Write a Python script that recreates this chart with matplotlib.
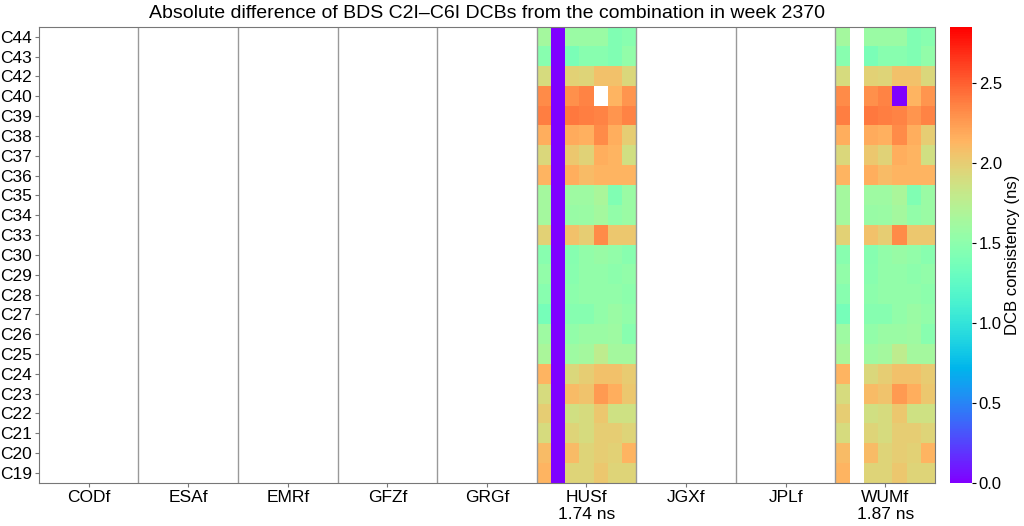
import numpy as np
import matplotlib
matplotlib.use("Agg")
import matplotlib.pyplot as plt

plt.rcParams['font.family'] = ['Liberation Sans', 'DejaVu Sans']

centers = ["CODf", "ESAf", "EMRf", "GFZf", "GRGf", "HUSf", "JGXf", "JPLf", "WUMf"]
center_means = {"HUSf": "1.74 ns", "WUMf": "1.87 ns"}
sats = ["C19", "C20", "C21", "C22", "C23", "C24", "C25", "C26", "C27", "C28", "C29",
        "C30", "C33", "C34", "C35", "C36", "C37", "C38", "C39", "C40", "C42", "C43", "C44"]
ndays = 7
nan = np.nan

# values per satellite (rows C19 -> C44), 7 days each
husf = [
    [2.13, 0.0, 1.95, 1.95, 2.03, 1.95, 1.95],
    [2.10, 0.0, 2.10, 1.95, 2.00, 1.98, 2.13],
    [1.91, 0.0, 1.95, 1.91, 2.00, 2.00, 1.95],
    [2.00, 0.0, 1.88, 1.91, 2.03, 1.86, 1.86],
    [1.91, 0.0, 2.10, 2.05, 2.25, 2.17, 2.03],
    [2.13, 0.0, 1.93, 2.00, 2.06, 2.06, 2.01],
    [1.66, 0.0, 1.60, 1.63, 1.78, 1.63, 1.63],
    [1.60, 0.0, 1.53, 1.58, 1.58, 1.60, 1.48],
    [1.38, 0.0, 1.46, 1.46, 1.53, 1.58, 1.53],
    [1.48, 0.0, 1.50, 1.53, 1.53, 1.53, 1.50],
    [1.53, 0.0, 1.48, 1.53, 1.53, 1.50, 1.53],
    [1.48, 0.0, 1.46, 1.53, 1.56, 1.53, 1.48],
    [1.98, 0.0, 2.06, 2.00, 2.32, 2.03, 2.03],
    [1.63, 0.0, 1.56, 1.58, 1.63, 1.53, 1.58],
    [1.63, 0.0, 1.60, 1.60, 1.66, 1.43, 1.58],
    [2.13, 0.0, 2.16, 2.10, 2.13, 2.13, 2.13],
    [1.93, 0.0, 2.03, 1.96, 2.16, 2.13, 1.88],
    [2.16, 0.0, 2.18, 2.15, 2.32, 2.16, 2.00],
    [2.38, 0.0, 2.40, 2.38, 2.36, 2.28, 2.36],
    [2.32, 0.0, 2.30, 2.35, nan, 2.13, 2.28],
    [1.91, 0.0, 1.98, 1.95, 2.06, 2.06, 1.93],
    [1.48, 0.0, 1.40, 1.48, 1.48, 1.43, 1.53],
    [1.63, 0.0, 1.58, 1.58, 1.58, 1.43, 1.48],
]
wumf = [
    [2.13, nan, 1.95, 1.95, 2.03, 1.95, 1.95],
    [2.10, nan, 2.10, 1.95, 2.00, 1.98, 2.13],
    [1.91, nan, 1.95, 1.91, 2.00, 2.00, 1.95],
    [2.00, nan, 1.88, 1.91, 2.03, 1.86, 1.86],
    [1.91, nan, 2.10, 2.05, 2.25, 2.17, 2.03],
    [2.13, nan, 1.93, 2.00, 2.06, 2.06, 2.01],
    [1.66, nan, 1.60, 1.63, 1.78, 1.63, 1.63],
    [1.60, nan, 1.53, 1.58, 1.58, 1.60, 1.48],
    [1.38, nan, 1.46, 1.46, 1.53, 1.58, 1.53],
    [1.48, nan, 1.50, 1.53, 1.53, 1.53, 1.50],
    [1.53, nan, 1.48, 1.53, 1.53, 1.50, 1.53],
    [1.48, nan, 1.46, 1.53, 1.56, 1.53, 1.48],
    [1.98, nan, 2.06, 2.00, 2.32, 2.03, 2.03],
    [1.63, nan, 1.56, 1.58, 1.63, 1.53, 1.58],
    [1.63, nan, 1.60, 1.60, 1.66, 1.43, 1.58],
    [2.13, nan, 2.16, 2.10, 2.13, 2.13, 2.13],
    [1.93, nan, 2.03, 1.96, 2.16, 2.13, 1.88],
    [2.16, nan, 2.18, 2.15, 2.32, 2.16, 2.00],
    [2.38, nan, 2.40, 2.38, 2.36, 2.28, 2.36],
    [2.32, nan, 2.30, 2.35, 0.0, 2.13, 2.28],
    [1.91, nan, 1.98, 1.95, 2.06, 2.06, 1.93],
    [1.48, nan, 1.40, 1.48, 1.48, 1.43, 1.53],
    [1.63, nan, 1.58, 1.58, 1.58, 1.43, 1.48],
]
ac_data = {"HUSf": husf, "WUMf": wumf}

# build the full grid, empty ACs are NaN
grid = np.full((len(sats), len(centers) * ndays), np.nan)
for i, ac in enumerate(centers):
    if ac in ac_data:
        grid[:, i * ndays:(i + 1) * ndays] = np.array(ac_data[ac])

fig = plt.figure(figsize=(10.24, 5.26), dpi=100)
ax = fig.add_axes([0.038, 0.082, 0.875, 0.867])
cax = fig.add_axes([0.928, 0.082, 0.021, 0.867])

im = ax.imshow(grid, cmap="rainbow", vmin=0, vmax=2.85, aspect="auto",
               origin="lower", interpolation="nearest")

for k in range(1, len(centers)):
    ax.axvline(k * ndays - 0.5, color="#999999", lw=1)

labels = []
for ac in centers:
    if ac in center_means:
        labels.append(ac + "\n" + center_means[ac])
    else:
        labels.append(ac)
ax.set_xticks([i * ndays + (ndays - 1) / 2 for i in range(len(centers))])
ax.set_xticklabels(labels, fontsize=12.5)
ax.set_yticks(range(len(sats)))
ax.set_yticklabels(sats, fontsize=12.5)
ax.tick_params(length=3, color="#777777", pad=2)
for s in ax.spines.values():
    s.set_color("#777777")

ax.set_title("Absolute difference of BDS C2I\u2013C6I DCBs from the combination in week 2370",
             fontsize=14)

cb = fig.colorbar(im, cax=cax)
cb.set_label("DCB consistency (ns)", fontsize=12, labelpad=2)
cb.ax.tick_params(labelsize=12, length=3, pad=2)
cb.outline.set_visible(False)

fig.savefig("out.png", dpi=100)
